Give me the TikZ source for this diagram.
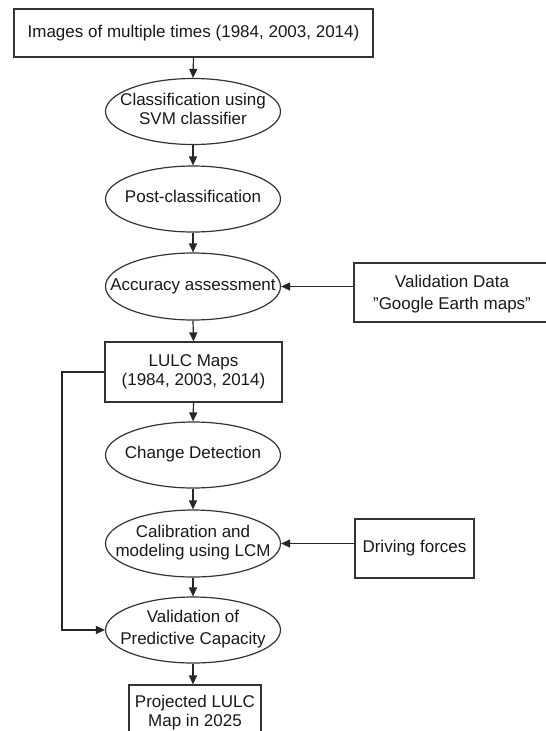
\documentclass[tikz,border=0pt]{standalone}
\usepackage{fontspec}
\setmainfont{Liberation Sans}
\usetikzlibrary{shapes.geometric,arrows.meta}
\newcommand{\ctxt}[1]{\makebox[0pt][c]{\begin{tabular}{@{}c@{}}#1\end{tabular}}}
\begin{document}
\begin{tikzpicture}[x=1pt,y=-1pt,
  every node/.style={font=\fontsize{17}{19}\selectfont, text=black!90, line width=1.2pt, draw=black!80, inner sep=0pt},
  boxnode/.style={rectangle, align=center},
  ellnode/.style={ellipse, minimum width=175pt, minimum height=66pt},
  arr/.style={-{Triangle[length=9pt,width=8pt]}, line width=1.2pt, draw=black!85}]
\useasboundingbox (0,0) rectangle (546,731);
\fill[white] (0,0) rectangle (546,731);
\node[boxnode, minimum width=359pt, minimum height=48pt] (top) at (193.5,33) {Images of multiple times (1984, 2003, 2014)};
\node[ellnode] (e1) at (193,111.5) {\ctxt{Classification using\\SVM classifier}};
\node[ellnode] (e2) at (193,199) {\ctxt{Post-classification}};
\node[ellnode, minimum height=67pt] (e3) at (193,286.5) {\ctxt{Accuracy assessment}};
\node[boxnode, minimum width=196pt, minimum height=59pt, text depth=0pt] (val) at (452,292.5) {Validation Data\\[3pt]{\char34}Google Earth maps{\char34}};
\node[boxnode, minimum width=177pt, minimum height=60pt] (lulc) at (193.5,372) {LULC Maps\\(1984, 2003, 2014)};
\node[ellnode] (e4) at (193,455) {\ctxt{Change Detection}};
\node[ellnode, minimum height=67pt] (e5) at (193,543.5) {\ctxt{Calibration and\\modeling using LCM}};
\node[boxnode, minimum width=119pt, minimum height=59pt] (drv) at (414.5,548.5) {Driving forces};
\node[ellnode] (e6) at (193,630) {\ctxt{Validation of\\[3pt]Predictive Capacity}};
\node[boxnode, minimum width=132pt, minimum height=55pt] (proj) at (195,712.5) {Projected LULC\\Map in 2025};
\draw[arr] (top.south) -- (e1.north);
\draw[arr] (e1.south) -- (e2.north);
\draw[arr] (e2.south) -- (e3.north);
\draw[arr] (e3.south) -- (lulc.north);
\draw[arr] (lulc.south) -- (e4.north);
\draw[arr] (e4.south) -- (e5.north);
\draw[arr] (e5.south) -- (e6.north);
\draw[arr] (e6.south) -- (proj.north -| e6.south);
\draw[arr] (e3.east -| val.west) -- (e3.east);
\draw[arr] (e5.east -| drv.west) -- (e5.east);
\coordinate (lft) at (62,372);
\draw[arr] (lulc.west) -- (lft) |- (e6.west);
\end{tikzpicture}
\end{document}
